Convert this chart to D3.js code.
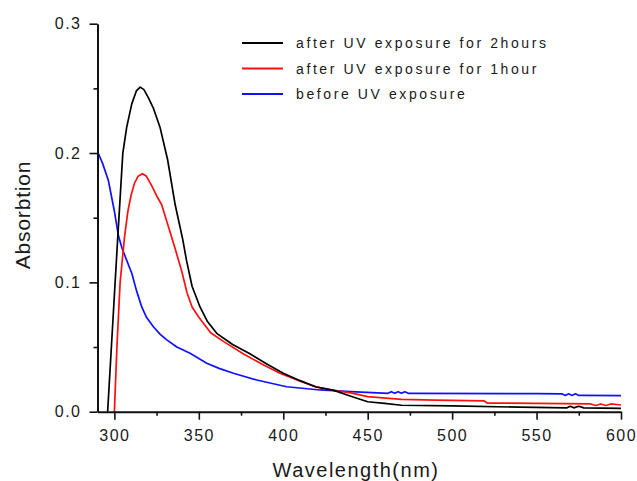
<!DOCTYPE html>
<html>
<head>
<meta charset="utf-8">
<script src="https://cdn.jsdelivr.net/npm/d3@7"></script>
<style>
  body { margin: 0; background: #fff; }
  text { font-family: "Liberation Sans", Arial, sans-serif; fill: #1a1a1a; }
</style>
</head>
<body>
<div id="chart"></div>
<script>
// 2 hours UV
var wl2h  = [296, 298, 300, 302, 305, 307.3, 310.3, 313, 315.3, 317.5, 320, 323, 327, 331.5, 336, 340.5, 342.7, 346, 350.7, 355, 360.6, 370, 380, 390, 400, 410, 419, 430, 440, 450, 460, 470, 500, 540, 568, 570, 572, 575, 578, 600];
var abs2h = [0, 0.045, 0.09, 0.135, 0.2, 0.22, 0.238, 0.248, 0.251, 0.249, 0.243, 0.235, 0.22, 0.195, 0.16, 0.133, 0.117, 0.097, 0.081, 0.07, 0.0606, 0.052, 0.045, 0.037, 0.0297, 0.024, 0.0193, 0.0165, 0.012, 0.0077, 0.0065, 0.005, 0.0045, 0.0035, 0.003, 0.0042, 0.003, 0.0042, 0.003, 0.0026];
// 1 hour UV
var wl1h  = [300, 301.5, 303.4, 306, 308, 310, 312, 314, 316.6, 319, 322, 325, 328, 332, 336, 340, 343, 346, 350, 357, 365, 376, 387, 398, 410, 420, 430, 440, 450, 470, 490, 519, 521, 550, 582, 585, 588, 591, 594, 600];
var abs1h = [0, 0.05, 0.1, 0.135, 0.155, 0.168, 0.177, 0.182, 0.184, 0.182, 0.175, 0.167, 0.16, 0.143, 0.126, 0.108, 0.092, 0.081, 0.073, 0.061, 0.054, 0.045, 0.037, 0.0297, 0.0235, 0.019, 0.0165, 0.0145, 0.0116, 0.0096, 0.009, 0.0083, 0.0066, 0.0065, 0.006, 0.0048, 0.006, 0.0048, 0.006, 0.0052];
// before UV
var wl0  = [290.4, 293, 296.4, 300, 302.4, 304.4, 307, 310.3, 313, 316.2, 319, 323.1, 327, 331, 337, 344.8, 354.7, 362, 370.5, 384.3, 402, 421.8, 440, 462, 464, 466, 468, 470, 472, 474, 476, 550, 565, 567, 569, 571, 573, 575, 577, 600];
var abs0 = [0.2, 0.192, 0.179, 0.155, 0.136, 0.127, 0.118, 0.107, 0.094, 0.081, 0.073, 0.0657, 0.06, 0.0555, 0.05, 0.0452, 0.0374, 0.0335, 0.0297, 0.0245, 0.0193, 0.0168, 0.0155, 0.0142, 0.0155, 0.0142, 0.0155, 0.0142, 0.0155, 0.0142, 0.0142, 0.014, 0.0138, 0.0126, 0.0138, 0.0126, 0.0138, 0.0126, 0.0126, 0.0124];

var seriesNames  = ["after UV exposure for 2hours", "after UV exposure for 1hour", "before UV exposure"];
var seriesColors = ["#000000", "#ff1010", "#1010ff"];
var xTicks = [300, 350, 400, 450, 500, 550, 600];
var xMinor = [325, 375, 425, 475, 525, 575];
var yTicks = [0, 0.1, 0.2, 0.3];
var yMinor = [0.05, 0.15, 0.25];

var w = 637, h = 481;

var svg = d3.select("#chart").append("svg")
    .attr("width", w)
    .attr("height", h);

var x = d3.scaleLinear().domain([290, 600]).range([97.5, 621]);
var y = d3.scaleLinear().domain([0, 0.3]).range([411.7, 23.7]);

function pairs(a, b) { return a.map(function (d, i) { return [d, b[i]]; }); }
var series = [pairs(wl2h, abs2h), pairs(wl1h, abs1h), pairs(wl0, abs0)];

var line = d3.line()
    .x(function (d) { return x(d[0]); })
    .y(function (d) { return y(d[1]); });

// curves (blue drawn first so black/red sit on top like origin)
[2, 1, 0].forEach(function (k) {
  svg.append("path")
    .datum(series[k])
    .attr("fill", "none")
    .attr("stroke", seriesColors[k])
    .attr("stroke-width", 1.7)
    .attr("stroke-linejoin", "round")
    .attr("d", line);
});

// axes
var gx = svg.append("g").attr("transform", "translate(0," + y(0) + ")")
    .call(d3.axisBottom(x).tickValues(xTicks).tickSize(8).tickSizeOuter(0).tickPadding(10)
      .tickFormat(d3.format("d")));
svg.append("g").attr("transform", "translate(0," + y(0) + ")")
    .call(d3.axisBottom(x).tickValues(xMinor).tickSize(4).tickSizeOuter(0).tickFormat(""))
    .select(".domain").remove();

var gy = svg.append("g").attr("transform", "translate(" + x(290) + ",0)")
    .call(d3.axisLeft(y).tickValues(yTicks).tickSize(8).tickSizeOuter(0).tickPadding(8)
      .tickFormat(d3.format(".1f")));
svg.append("g").attr("transform", "translate(" + x(290) + ",0)")
    .call(d3.axisLeft(y).tickValues(yMinor).tickSize(4).tickSizeOuter(0).tickFormat(""))
    .select(".domain").remove();

svg.selectAll(".domain").attr("stroke", "#111").attr("stroke-width", 2);
svg.selectAll(".tick line").attr("stroke", "#111").attr("stroke-width", 1.6);
svg.selectAll(".tick text")
    .attr("font-family", "Liberation Sans, Arial, sans-serif")
    .attr("font-size", "16px")
    .attr("letter-spacing", "1.5px")
    .attr("fill", "#1a1a1a");

// axis titles
svg.append("text")
    .attr("x", 356)
    .attr("y", 477)
    .attr("text-anchor", "middle")
    .attr("font-size", "20px")
    .attr("letter-spacing", "1.5px")
    .text("Wavelength(nm)");

svg.append("text")
    .attr("transform", "translate(30,215) rotate(-90)")
    .attr("text-anchor", "middle")
    .attr("font-size", "21px")
    .attr("letter-spacing", "0.8px")
    .text("Absorbtion");

// legend
var legend = svg.selectAll(".legend")
    .data(seriesNames)
    .enter()
    .append("g")
    .attr("class", "legend")
    .attr("transform", function (d, i) { return "translate(242," + (43 + i * 25.5) + ")"; });

legend.append("line")
    .attr("x1", 0).attr("x2", 41)
    .attr("stroke", function (d, i) { return seriesColors[i]; })
    .attr("stroke-width", 1.8);

legend.append("text")
    .attr("x", 54)
    .attr("y", 5)
    .attr("font-size", "14px")
    .attr("letter-spacing", "2.6px")
    .text(function (d) { return d; });
</script>
</body>
</html>
